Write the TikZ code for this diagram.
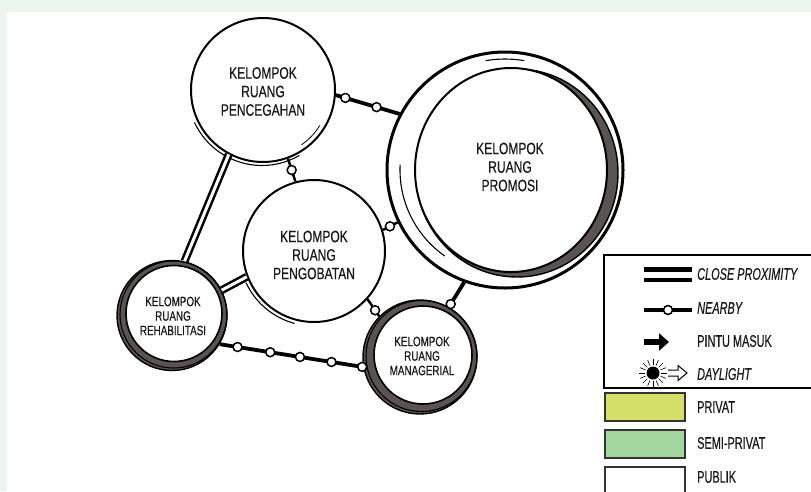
\documentclass[tikz,border=0pt]{standalone}
\usepackage{fontspec}
\newfontfamily\circfont[FakeStretch=0.73, FakeBold=0.4]{Liberation Sans}
\newfontfamily\legfont[FakeStretch=0.65, FakeBold=0.4]{Liberation Sans}
\usetikzlibrary{arrows.meta}
\definecolor{paper}{HTML}{EAF5EF}
\definecolor{ringgray}{HTML}{5A5351}
\definecolor{privat}{HTML}{D4DF6A}
\definecolor{semiprivat}{HTML}{A4D7A0}

\tikzset{
  room/.style={circle, draw=black, fill=white, line width=2pt, inner sep=0pt},
  ringroom/.style={circle, draw=black, fill=ringgray, line width=1.4pt, inner sep=0pt},
  bigtext/.style={align=center, font=\circfont\fontsize{16.5}{18.5}\selectfont, text=black!90, inner sep=0pt},
  smalltext/.style={align=center, font=\circfont\fontsize{13.5}{14.5}\selectfont, text=black!90, inner sep=0pt},
  closeline/.style={draw=black, double=white, double distance=3pt, line width=2.5pt},
  nearline/.style={draw=black, line width=3.8pt},
  nbdot/.style={circle, draw=black, fill=white, line width=1.5pt, minimum size=9pt, inner sep=0pt},
  sketch/.style={line width=1.1pt},
  legtext/.style={anchor=west, font=\legfont\fontsize{16.8}{18}\selectfont, text=black!90, inner sep=0pt},
  swatch/.style={draw=black!80, line width=1.5pt},
}

\begin{document}
\begin{tikzpicture}[x=1pt, y=1pt]
\useasboundingbox (0,0) rectangle (811,-491);
\clip (0,0) rectangle (811,-491);

% paper and sheet
\fill[paper] (0,0) rectangle (811,-491);
\fill[white] (7,-12) rectangle (811,-491);

% ---- room groups ----
% promosi: outer ring, shaded crescent, inner circle
\node[room, line width=3pt, minimum size=236pt] (pr) at (505,-170) {};
\draw[sketch] (505,-170) ++(80:111) arc[start angle=80, end angle=100, radius=111];
\fill[ringgray, draw=black, line width=1.4pt] (517,-173) ellipse[x radius=101, y radius=104];
\fill[white, draw=black, line width=2pt] (511,-170) ellipse[x radius=96, y radius=102];
\draw[sketch] (505,-170) ++(177:105) arc[start angle=177, end angle=235, radius=105];
\node[bigtext] (pr-t) at (510,-167) {KELOMPOK\\RUANG\\PROMOSI};

% pencegahan
\node[room, minimum size=144pt] (pc) at (263,-90) {};
\draw[sketch] (262,-91) ++(205:74.5) arc[start angle=205, end angle=300, radius=74.5];
\draw[line width=0.8pt] (263,-90) ++(-32:67) arc[start angle=-32, end angle=-55, radius=67];
\node[bigtext] (pc-t) at (263,-91.5) {KELOMPOK\\RUANG\\PENCEGAHAN};

% pengobatan
\node[room, minimum size=142pt] (pg) at (314,-251) {};
\draw[sketch] (314,-251) ++(205:75) arc[start angle=205, end angle=255, radius=75];
\node[bigtext] (pg-t) at (314,-255) {KELOMPOK\\RUANG\\PENGOBATAN};

% rehabilitasi
\node[ringroom, minimum size=110pt] (rh) at (172,-315.5) {};
\draw[line width=1.1pt] ([shift={(1.5,1)}]rh.center) circle[radius=53.5];
\fill[white, draw=black, line width=1.6pt] (174,-313.5) circle[radius=48];
\node[smalltext] (rh-t) at (173,-316) {KELOMPOK\\RUANG\\REHABILITASI};

% managerial
\node[ringroom, minimum size=114pt] (mg) at (420,-357) {};
\draw[line width=1.1pt] ([shift={(1.5,1)}]mg.center) circle[radius=55.5];
\fill[white, draw=black, line width=1.6pt] (423,-355) circle[radius=49];
\node[smalltext] (mg-t) at (422,-356) {KELOMPOK\\RUANG\\MANAGERIAL};

% ---- connectors ----
\draw[closeline] (pc.242) -- (rh.77);
\draw[closeline] (pg.201) -- (rh.27);

\draw[nearline] (pc.-4) -- (pr.152)
  node[nbdot, pos=0.15] {} node[nbdot, pos=0.64] {};
\draw[nearline, line width=2.5pt] (pc.-70) -- (pg.105) node[nbdot, pos=0.5] {};
\draw[nearline, line width=2.5pt] (pg.17) -- (pr.206) node[nbdot, pos=0.48] {};
\draw[nearline, line width=2.5pt] (pg.-42) -- (mg.135) node[nbdot, pos=0.65] {};
\draw[nearline] (pr.250) -- (mg.60) node[nbdot, pos=0.88] {};
\draw[nearline] (rh.-31) -- (mg.190)
  node[nbdot, pos=0.124] {} node[nbdot, pos=0.352] {}
  node[nbdot, pos=0.559] {} node[nbdot, pos=0.779] {}
  node[nbdot, pos=0.993] {};

% ---- legend ----
\draw[line width=1.4pt, fill=white] (820,-255) -- (604,-255) -- (604,-388) -- (820,-388);

% close proximity
\draw[line width=4.2pt] (644,-269.5) -- (692,-269.5);
\draw[line width=4.2pt] (644,-280.3) -- (692,-280.3);
\node[legtext] (lg-close) at (697,-274) {\itshape CLOSE PROXIMITY};

% nearby
\draw[line width=3.8pt] (644,-310) -- (692,-310);
\node[nbdot] (lg-dot) at (668,-310) {};
\node[legtext] (lg-near) at (697,-308) {\itshape NEARBY};

% entrance
\draw[line width=6pt, -{Triangle[length=10pt, width=17pt]}] (644,-342) -- (669,-342);
\node[legtext] (lg-pintu) at (697,-341) {PINTU MASUK};

% daylight
\fill (653,-373) circle[radius=6.5];
\foreach \a in {0,22.5,...,337.5}
  \draw[line width=0.6pt] (653,-373) ++(\a:8) -- ++(\a:6);
\draw[line width=1pt, fill=white, line join=miter]
  (668,-370) -- (678,-370) -- (678,-365.5) -- (687,-373) -- (678,-380.5) -- (678,-376) -- (668,-376);
\node[legtext] (lg-day) at (697,-374) {\itshape DAYLIGHT};

% zone colours
\draw[swatch, fill=privat] (605,-393) rectangle (685,-421);
\node[legtext] (lg-privat) at (697,-407) {PRIVAT};
\draw[swatch, fill=semiprivat] (605,-430) rectangle (685,-458);
\node[legtext] (lg-semi) at (697,-443) {SEMI-PRIVAT};
\draw[swatch, fill=white] (605,-467) rectangle (685,-495);
\node[legtext] (lg-publik) at (697,-477) {PUBLIK};
\end{tikzpicture}
\end{document}
